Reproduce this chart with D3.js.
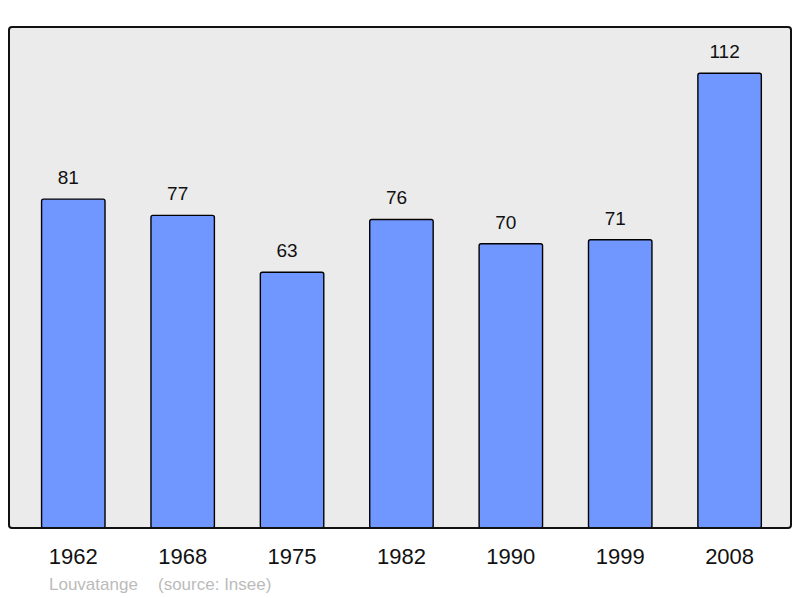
<!doctype html>
<html>
<head>
<script src="https://d3js.org/d3.v7.min.js"></script>
<style>
  body { margin: 0; background: #fff; }
</style>
</head>
<body>
<svg width="800" height="598" id="chart"></svg>
<script>
// data
var years = ["1962", "1968", "1975", "1982", "1990", "1999", "2008"];
var population = [81, 77, 63, 76, 70, 71, 112];
var place = "Louvatange";
var source = "(source: Insee)";

var svg = d3.select("#chart");

var frame = {left: 9, top: 27, right: 791, bottom: 528};

var xScale = d3.scaleBand()
    .domain(years)
    .range([18.6, 784.3])
    .paddingInner(0.42)
    .paddingOuter(0.21);

var yScale = d3.scaleLinear()
    .domain([0, 123.4])
    .range([frame.bottom, frame.top]);

// background panel
svg.append("rect")
    .attr("x", frame.left)
    .attr("y", frame.top)
    .attr("width", frame.right - frame.left)
    .attr("height", frame.bottom - frame.top)
    .attr("rx", 3)
    .style("fill", "#ebebeb");

// bars
svg.append("g")
    .selectAll("rect")
    .data(population)
    .enter()
    .append("rect")
    .attr("x", function (d, i) { return xScale(years[i]); })
    .attr("y", function (d) { return yScale(d); })
    .attr("width", xScale.bandwidth())
    .attr("height", function (d) { return yScale(0) - yScale(d); })
    .attr("rx", 2)
    .style("fill", "#7096ff")
    .style("stroke", "#000")
    .style("stroke-width", 1.4);

// frame on top
svg.append("rect")
    .attr("x", frame.left)
    .attr("y", frame.top)
    .attr("width", frame.right - frame.left)
    .attr("height", frame.bottom - frame.top)
    .attr("rx", 3)
    .style("fill", "none")
    .style("stroke", "#111")
    .style("stroke-width", 2);

// value labels
svg.append("g")
    .selectAll("text")
    .data(population)
    .enter()
    .append("text")
    .attr("x", function (d, i) { return xScale(years[i]) + xScale.bandwidth() / 2 - 5; })
    .attr("y", function (d) { return yScale(d) - 15; })
    .attr("text-anchor", "middle")
    .style("font-family", "Liberation Sans, Arial, sans-serif")
    .style("font-size", "19px")
    .style("fill", "#111")
    .text(function (d) { return d; });

// year labels
var xAxis = svg.append("g")
    .attr("transform", "translate(0," + frame.bottom + ")")
    .call(d3.axisBottom(xScale).tickSize(0).tickPadding(0));
xAxis.select(".domain").remove();
xAxis.selectAll("text")
    .attr("dy", null)
    .attr("y", 36)
    .style("font-family", "Liberation Sans, Arial, sans-serif")
    .style("font-size", "22px")
    .style("fill", "#111");

// source line
svg.append("text")
    .attr("x", 49)
    .attr("y", 590)
    .style("font-family", "Liberation Sans, Arial, sans-serif")
    .style("font-size", "17px")
    .style("fill", "#bbb")
    .text(place);
svg.append("text")
    .attr("x", 158)
    .attr("y", 590)
    .style("font-family", "Liberation Sans, Arial, sans-serif")
    .style("font-size", "17px")
    .style("fill", "#bbb")
    .text(source);
</script>
</body>
</html>
